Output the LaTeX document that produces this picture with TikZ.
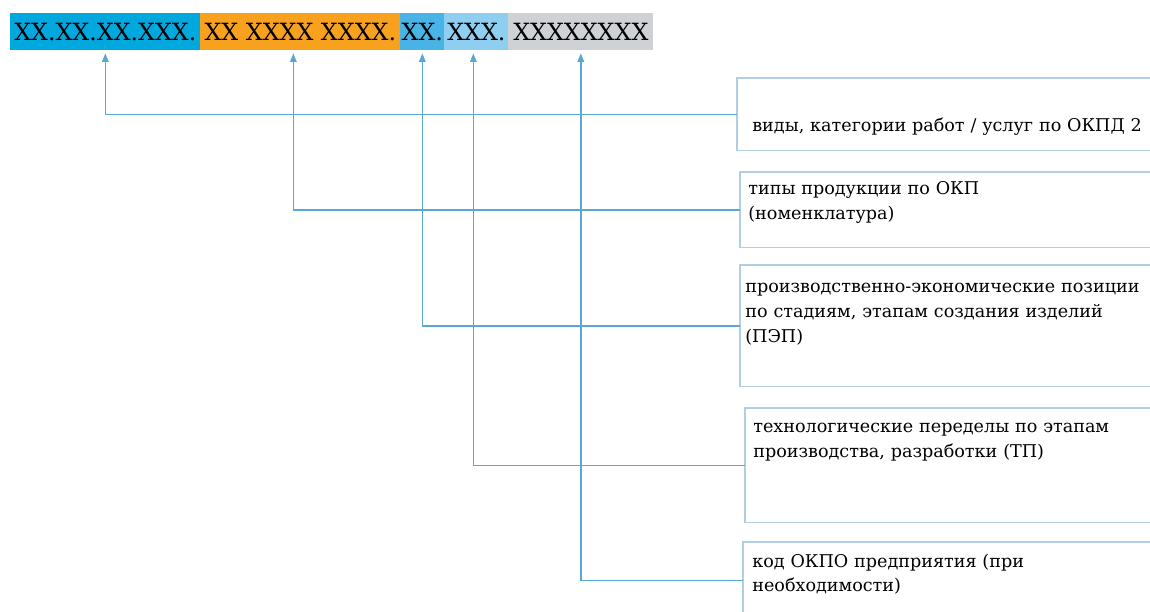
\documentclass[tikz,border=0pt]{standalone}
\usepackage{fontspec}
\setmainfont{DejaVu Serif}
\usetikzlibrary{arrows.meta,positioning}

\definecolor{segblue}{RGB}{0,168,222}
\definecolor{segorange}{RGB}{247,161,30}
\definecolor{segmid}{RGB}{72,180,230}
\definecolor{seglight}{RGB}{142,206,240}
\definecolor{seggray}{RGB}{206,209,213}
\definecolor{connblue}{RGB}{88,168,212}
\definecolor{boxline}{RGB}{178,206,226}

\tikzset{
  seg/.style={anchor=north west, inner sep=0pt, minimum height=0.74cm,
    font=\fontsize{13.5}{16}\selectfont},
  codebox/.style={anchor=north west, inner sep=0pt},
  boxedge/.style={draw=boxline, line width=0.6pt},
  boxtext/.style={inner sep=0pt, text width=9.5cm, align=left,
    font=\fontsize{10}{14.2}\selectfont},
  conn/.style={draw=connblue, line width=0.8pt,
    -{Triangle[length=0.17cm,width=0.13cm]}, shorten >=1.5pt}
}

\begin{document}
\begin{tikzpicture}[x=0.02cm,y=-0.02cm]
            \useasboundingbox (0,0) rectangle (1150,612);
            % code line
            \node[seg, fill=segblue, minimum width=3.8cm] (s1) at (10,13) {XX.XX.XX.XXX.};
            \node[seg, fill=segorange, minimum width=4cm] (s2) at (200,13) {XX XXXX XXXX.};
            \node[seg, fill=segmid, minimum width=0.88cm] (s3) at (400,13) {XX.};
            \node[seg, fill=seglight, minimum width=1.28cm] (s4) at (444,13) {XXX.};
            \node[seg, fill=seggray, minimum width=2.9cm] (s5) at (508,13) {XXXXXXXX};
            % boxes, cut off at the right edge
            \node[codebox, minimum width=8.26cm, minimum height=1.44cm] (b1) at (737,78) {};
            \node[codebox, minimum width=8.2cm, minimum height=1.5cm] (b2) at (740,172) {};
            \node[codebox, minimum width=8.2cm, minimum height=2.42cm] (b3) at (740,265) {};
            \node[codebox, minimum width=8.1cm, minimum height=2.28cm] (b4) at (745,408) {};
            \node[codebox, minimum width=8.14cm, minimum height=1.52cm] (b5) at (743,542) {};
            \foreach \b in {b1,b2,b3,b4,b5}
              \draw[boxedge] (\b.north east) -- (\b.north west) -- (\b.south west) -- (\b.south east);
            \node[boxtext, below right=1.08cm and 0.3cm of b1.north west, anchor=base west] (t1)
              {виды, категории работ / услуг по ОКПД 2};
            \node[boxtext, below right=0.46cm and 0.16cm of b2.north west, anchor=base west] (t2)
              {типы продукции по ОКП\\(номенклатура)};
            \node[boxtext, below right=0.56cm and 0.1cm of b3.north west, anchor=base west] (t3)
              {производственно-экономические позиции\\по стадиям, этапам создания изделий\\(ПЭП)};
            \node[boxtext, below right=0.5cm and 0.16cm of b4.north west, anchor=base west] (t4)
              {технологические переделы по этапам\\производства, разработки (ТП)};
            \node[boxtext, below right=0.5cm and 0.18cm of b5.north west, anchor=base west] (t5)
              {код ОКПО предприятия (при\\необходимости)};
            % arrows
            \draw[conn] (b1.west) -| (s1.south);
            \draw[conn] (b2.west) -| ([xshift=-0.14cm]s2.south);
            \draw[conn] (b3.west) -| (s3.south);
            \draw[conn] (b4.west) -| ([xshift=-0.06cm]s4.south);
            \draw[conn] (b5.west) -| (s5.south);
        \end{tikzpicture}
\end{document}
